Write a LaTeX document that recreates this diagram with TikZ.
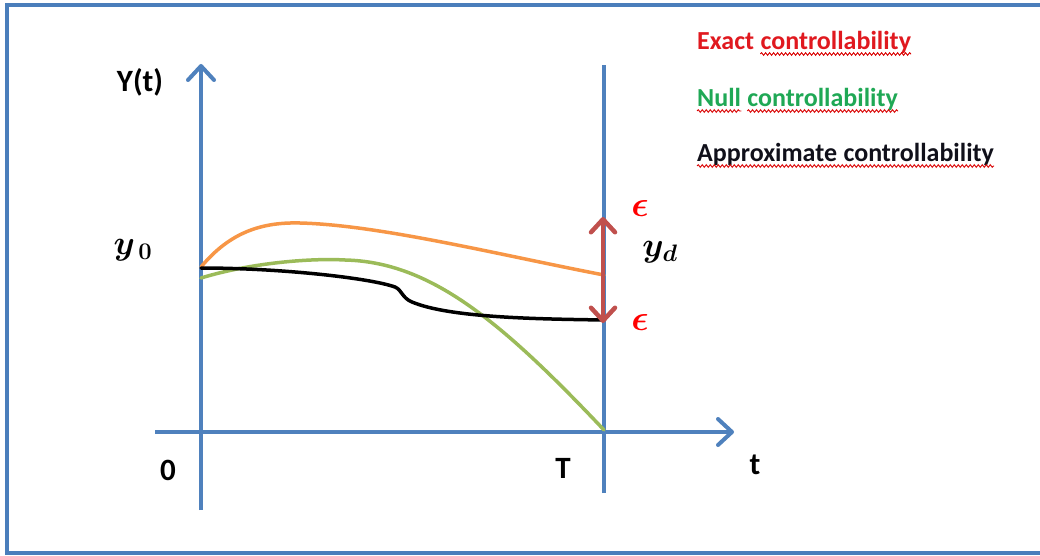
\RequirePackage{fix-cm}
\documentclass[tikz,border=0pt]{standalone}
\usepackage{fontspec}
\usepackage{bm}
\setmainfont{Carlito}
\usetikzlibrary{arrows.meta,decorations.pathmorphing}
\definecolor{axblue}{HTML}{4F81BD}
\definecolor{frblue}{HTML}{4A7EBB}
\definecolor{corange}{HTML}{F79646}
\definecolor{cgreen}{HTML}{9BBB59}
\definecolor{cred}{HTML}{C0504D}
\definecolor{exred}{HTML}{E0191F}
\definecolor{nullgreen}{HTML}{1FA855}
\definecolor{apblack}{HTML}{10101A}
\tikzset{
  axis/.style={draw=axblue, line width=4pt},
  axisarrow/.style={axis, -{Straight Barb[length=14pt,width=26pt,round]}},
  curve/.style={line width=3.5pt, line cap=round},
  leg/.style={font=\fontsize{26}{30}\selectfont\bfseries, inner sep=0pt, anchor=base west},
  lab/.style={font=\fontsize{31}{36}\selectfont\bfseries, inner sep=0pt},
  mathlab/.style={font=\fontsize{34}{40}\selectfont\boldmath, inner sep=0pt},
  epslab/.style={font=\fontsize{36}{42}\selectfont\boldmath, inner sep=0pt, text=red},
  squig/.style={draw=red!85!black, line width=0.9pt, decorate,
    decoration={snake, segment length=4pt, amplitude=1.3pt}},
}
\begin{document}
\begin{tikzpicture}[x=1pt,y=-1pt]
\useasboundingbox (0,0) rectangle (1040,556);
% frame
\draw[draw=frblue, line width=4pt] (7,5) rectangle (1050,553);
% axis coordinates
\coordinate (ybot) at (201,510);
\coordinate (ytop) at (201,64);
\coordinate (tleft) at (155,432);
\coordinate (tright) at (734,432);
\coordinate (Tbot) at (604,493);
\coordinate (Ttop) at (604,65);
\draw[axisarrow] (ybot) -- (ytop);
\draw[axisarrow] (tleft) -- (tright);
\draw[axis] (Tbot) -- (Ttop);
% curves
\draw[curve, draw=corange] (201,267) .. controls (230,232) and (262,222) .. (300,223)
  .. controls (380,225) and (500,255) .. (604,275);
\draw[curve, draw=cgreen] (201,278) .. controls (250,263) and (310,258) .. (345,260)
  .. controls (430,262) and (500,320) .. (604,430);
\draw[curve, draw=black] (201,268) .. controls (280,268) and (370,278) .. (395,287)
  .. controls (402,290) and (402,298) .. (412,302)
  .. controls (450,318) and (540,319) .. (604,320);
% red double arrow
\coordinate (rtop) at (603,217);
\coordinate (rbot) at (603,323);
\draw[draw=cred, line width=4.5pt, {Straight Barb[length=13pt,width=24pt,round]}-{Straight Barb[length=13pt,width=24pt,round]}] (rbot) -- (rtop);
% labels
\node[lab] (Yt) at (140,82) {Y(t)};
\node[lab] (zero) at (168,470) {0};
\node[lab] (Tl) at (563,468) {T};
\node[lab] (tl) at (755,465) {t};
\node[mathlab] (y0) at (133,250) {$y_{\,0}$};
\node[mathlab] (yd) at (660,252) {$y_d$};
\node[epslab] (eps1) at (640,208) {$\epsilon$};
\node[epslab] (eps2) at (640,322) {$\epsilon$};
% legend
\node[leg, text=exred] (ex1) at (697,50) {Exact};
\node[leg, text=exred] (ex2) at ([xshift=6pt]ex1.base east) {controllability};
\node[leg, text=nullgreen] (nu1) at (697,107) {Null};
\node[leg, text=nullgreen] (nu2) at ([xshift=6pt]nu1.base east) {controllability};
\node[leg, text=apblack] (ap1) at (697,162) {Approximate};
\node[leg, text=apblack] (ap2) at ([xshift=6pt]ap1.base east) {controllability};
\draw[squig] ([yshift=-4pt]ex2.base west) -- ([yshift=-4pt]ex2.base east);
\draw[squig] ([yshift=-4pt]nu1.base west) -- ([yshift=-4pt]nu1.base east);
\draw[squig] ([yshift=-4pt]nu2.base west) -- ([yshift=-4pt]nu2.base east);
\draw[squig] ([yshift=-4pt]ap1.base west) -- ([yshift=-4pt]ap2.base east);
\end{tikzpicture}
\end{document}
